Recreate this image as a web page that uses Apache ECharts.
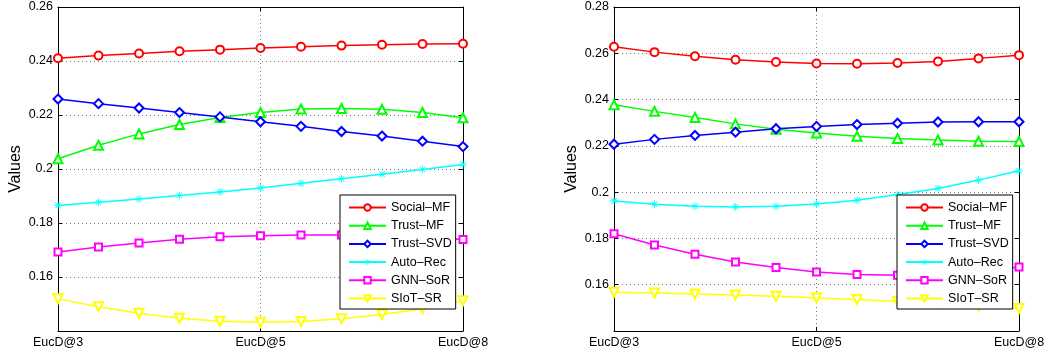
<!DOCTYPE html>
<html>
<head>
<meta charset="utf-8">
<script src="https://cdn.jsdelivr.net/npm/echarts@6/dist/echarts.min.js"></script>
<style>
  html, body { margin: 0; padding: 0; background: #fff; }
  #chart { width: 1055px; height: 356px; }
</style>
</head>
<body>
<div id="chart"></div>
<script>
const xLabels = ['EucD@3', '', '', '', '', 'EucD@5', '', '', '', '', 'EucD@8'];
const names = ['Social–MF', 'Trust–MF', 'Trust–SVD', 'Auto–Rec', 'GNN–SoR', 'SIoT–SR'];

// left panel
const leftSocialMF = [0.2410, 0.2420, 0.2428, 0.2436, 0.2442, 0.2448, 0.2453, 0.2457, 0.2460, 0.2463, 0.2464];
const leftTrustMF  = [0.2038, 0.2088, 0.2130, 0.2165, 0.2191, 0.2209, 0.2222, 0.2224, 0.2221, 0.2209, 0.2190];
const leftTrustSVD = [0.2259, 0.2242, 0.2226, 0.2209, 0.2193, 0.2175, 0.2158, 0.2139, 0.2122, 0.2103, 0.2083];
const leftAutoRec  = [0.1865, 0.1877, 0.1889, 0.1902, 0.1915, 0.1930, 0.1947, 0.1964, 0.1981, 0.1998, 0.2017];
const leftGNNSoR   = [0.1693, 0.1711, 0.1726, 0.1740, 0.1749, 0.1753, 0.1756, 0.1756, 0.1753, 0.1747, 0.1739];
const leftSIoTSR   = [0.1519, 0.1490, 0.1466, 0.1447, 0.1436, 0.1432, 0.1435, 0.1445, 0.1461, 0.1482, 0.1512];

// right panel
const rightSocialMF = [0.2628, 0.2605, 0.2587, 0.2572, 0.2562, 0.2556, 0.2555, 0.2558, 0.2565, 0.2578, 0.2592];
const rightTrustMF  = [0.2378, 0.2349, 0.2323, 0.2295, 0.2272, 0.2256, 0.2242, 0.2232, 0.2225, 0.2220, 0.2219];
const rightTrustSVD = [0.2207, 0.2228, 0.2245, 0.2259, 0.2274, 0.2284, 0.2292, 0.2298, 0.2303, 0.2304, 0.2304];
const rightAutoRec  = [0.1962, 0.1948, 0.1939, 0.1936, 0.1939, 0.1949, 0.1965, 0.1990, 0.2016, 0.2052, 0.2092];
const rightGNNSoR   = [0.1820, 0.1772, 0.1732, 0.1698, 0.1674, 0.1655, 0.1644, 0.1641, 0.1645, 0.1656, 0.1677];
const rightSIoTSR   = [0.1567, 0.1564, 0.1560, 0.1556, 0.1550, 0.1543, 0.1536, 0.1528, 0.1518, 0.1508, 0.1497];

const leftData = [leftSocialMF, leftTrustMF, leftTrustSVD, leftAutoRec, leftGNNSoR, leftSIoTSR];
const rightData = [rightSocialMF, rightTrustMF, rightTrustSVD, rightAutoRec, rightGNNSoR, rightSIoTSR];

const colors = ['#ff0000', '#00ff00', '#0000ff', '#00ffff', '#ff00ff', '#ffff00'];
const asterisk = 'path://M-1,-10L1,-10L1,10L-1,10Z M-10,-1L10,-1L10,1L-10,1Z M-6.3,-7.7L7.7,6.3L6.3,7.7L-7.7,-6.3Z M-7.7,6.3L6.3,-7.7L7.7,-6.3L-6.3,7.7Z';
const symbols = ['emptyCircle', 'emptyTriangle', 'emptyDiamond', asterisk, 'emptyRect', 'emptyTriangle'];
const symbolSizes = [8, 9, 9, 8, 7, 9];
const rotations = [0, 0, 0, 0, 0, 180];

const font = 'Liberation Sans, Arial, Helvetica, sans-serif';
const chart = echarts.init(document.getElementById('chart'));

function xAxes(gridIndex) {
    return [{
        type: 'category', gridIndex, data: xLabels, boundaryGap: false,
        axisLine: { lineStyle: { color: '#000', width: 1 } },
        axisTick: { inside: true, length: 4, interval: (i) => i % 5 === 0, lineStyle: { color: '#000' } },
        axisLabel: { interval: 0, color: '#000', fontSize: 12.5, fontFamily: font, margin: 5 },
        splitLine: { show: true, interval: (i) => i === 5, lineStyle: { color: '#777', type: [1, 3] } }
    }, {
        type: 'category', gridIndex, data: xLabels, boundaryGap: false, position: 'top',
        axisLine: { lineStyle: { color: '#000', width: 1 } },
        axisTick: { inside: true, length: 4, interval: (i) => i % 5 === 0, lineStyle: { color: '#000' } },
        axisLabel: { show: false }, splitLine: { show: false }
    }];
}

function yAxes(gridIndex, max) {
    return [{
        type: 'value', gridIndex, min: 0.14, max, interval: 0.02,
        name: 'Values', nameLocation: 'middle', nameGap: 34,
        nameTextStyle: { fontSize: 16, color: '#000', fontFamily: font },
        axisLine: { show: true, lineStyle: { color: '#000', width: 1 } },
        axisTick: { show: true, inside: true, length: 4, lineStyle: { color: '#000' } },
        axisLabel: { showMinLabel: false, color: '#000', fontSize: 12.5, fontFamily: font, margin: 5 },
        splitLine: { show: true, lineStyle: { color: '#777', type: [1, 3] } }
    }, {
        type: 'value', gridIndex, min: 0.14, max, interval: 0.02, position: 'right',
        axisLine: { show: true, lineStyle: { color: '#000', width: 1 } },
        axisTick: { show: true, inside: true, length: 4, lineStyle: { color: '#000' } },
        axisLabel: { show: false }, splitLine: { show: false }
    }];
}

function seriesFor(data, axisIndex) {
    return data.map((values, k) => ({
        name: names[k],
        type: 'line',
        xAxisIndex: axisIndex, yAxisIndex: axisIndex,
        data: values,
        symbol: symbols[k], symbolSize: symbolSizes[k], symbolRotate: rotations[k],
        lineStyle: { color: colors[k], width: 1.5 },
        itemStyle: { color: colors[k], borderWidth: 1.2 },
        emphasis: { disabled: true },
        animation: false,
        z: 3
    }));
}

function legendAt(left) {
    return {
        orient: 'vertical', left, top: 195,
        data: names,
        selectedMode: false,
        backgroundColor: '#fff', borderColor: '#000', borderWidth: 1,
        padding: [6, 4, 4, 8],
        itemWidth: 37, itemHeight: 8, itemGap: 5.2,
        textStyle: { fontSize: 12.5, lineHeight: 12, color: '#000', fontFamily: font },
        z: 10
    };
}

const option = {
    backgroundColor: '#fff',
    animation: false,
    grid: [
        { left: 58, top: 7, width: 405, height: 324 },
        { left: 614, top: 7, width: 405, height: 324 }
    ],
    xAxis: [...xAxes(0), ...xAxes(1)],
    yAxis: [...yAxes(0, 0.26), ...yAxes(1, 0.28)],
    legend: [legendAt(340), legendAt(897)],
    series: [...seriesFor(leftData, 0), ...seriesFor(rightData, 2)]
};
chart.setOption(option);
</script>
</body>
</html>
